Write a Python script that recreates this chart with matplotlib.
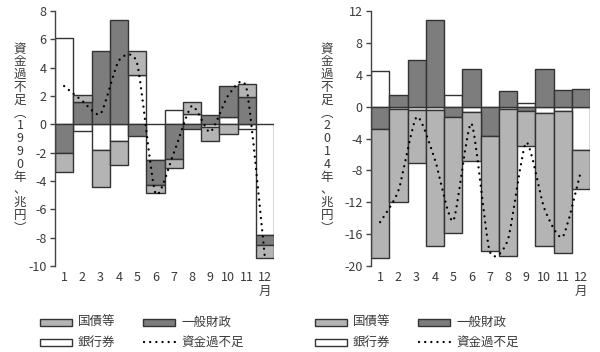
import numpy as np
import matplotlib
matplotlib.use("Agg")
import matplotlib.pyplot as plt
from matplotlib.path import Path
from matplotlib.patches import PathPatch, Rectangle
from matplotlib.lines import Line2D

plt.rcParams['font.family'] = ['Noto Sans CJK JP', 'DejaVu Sans']
plt.rcParams['axes.unicode_minus'] = False

months = list(range(1, 13))
month_labels = [str(m) for m in months]

# 1990 (兆円)
notes_1990 = [6.1, -0.45, -1.8, -1.15, 3.45, -2.5, 1.0, 0.75, -0.2, 0.55, -0.35, -7.8]
fiscal_1990 = [-2.05, 1.6, 5.15, 7.35, -0.85, -1.8, -2.45, -0.3, 0.65, 2.15, 1.95, -0.7]
bonds_1990 = [-1.35, 0.5, -2.6, -1.7, 1.7, -0.55, -0.6, 0.85, -1.0, -0.65, 0.9, -0.9]

# 2014 (兆円)
notes_2014 = [4.5, -0.3, -0.4, -0.4, 1.45, -0.7, 0.0, -0.3, 0.4, -0.8, -0.5, -5.4]
fiscal_2014 = [-2.8, 1.45, 5.8, 10.85, -1.3, 4.7, -3.7, 2.0, -0.6, 4.7, 2.05, 2.2]
bonds_2014 = [-16.2, -11.7, -6.7, -17.1, -14.5, -6.1, -14.4, -18.4, -4.3, -16.7, -17.9, -4.9]

c_bonds = '#b4b4b4'
c_fiscal = '#7d7d7d'
c_notes = '#ffffff'
edge = '#333333'
txt = '#3a3a3a'
dots = (0, (0.01, 2.6))
fs = 9


def smooth_path(xs, ys, k=0.11):
    # smoothed curve through the points, drawn as cubic Bezier segments
    pts = np.column_stack([xs, ys]).astype(float)
    ext = np.vstack([pts[0], pts, pts[-1]])
    verts = [pts[0]]
    codes = [Path.MOVETO]
    for i in range(len(pts) - 1):
        p0, p1, p2, p3 = ext[i], ext[i + 1], ext[i + 2], ext[i + 3]
        verts += [p1 + (p2 - p0) * k, p2 - (p3 - p1) * k, p2]
        codes += [Path.CURVE4] * 3
    return Path(verts, codes)


def draw_panel(ax, notes, fiscal, bonds, ylim, yticks):
    x = np.array(months)
    pos = np.zeros(12)
    neg = np.zeros(12)
    for vals, col in [(notes, c_notes), (fiscal, c_fiscal), (bonds, c_bonds)]:
        v = np.array(vals)
        bottom = np.where(v >= 0, pos, neg)
        ax.bar(x, v, bottom=bottom, width=1.0, color=col, edgecolor=edge, linewidth=1.0, zorder=2)
        pos += np.clip(v, 0, None)
        neg += np.clip(v, None, 0)
    total = np.array(notes) + np.array(fiscal) + np.array(bonds)
    line = PathPatch(smooth_path(x, total), fill=False, edgecolor='black',
                     linewidth=1.7, linestyle=dots, capstyle='round', zorder=3)
    ax.add_patch(line)

    ax.set_xlim(0.5, 12.5)
    ax.set_ylim(*ylim)
    ax.set_yticks(yticks)
    ax.set_xticks(x, month_labels)
    for s in ['top', 'right', 'bottom']:
        ax.spines[s].set_visible(False)
    ax.spines['left'].set_color('#444444')
    ax.spines['left'].set_linewidth(1.0)
    ax.tick_params(axis='y', length=3.5, width=1.0, color='#444444', pad=2.5,
                   labelsize=fs, labelcolor=txt)
    ax.tick_params(axis='x', length=0, pad=3.5, labelsize=fs, labelcolor=txt)
    ax.text(12, -0.1, '月', transform=ax.get_xaxis_transform(), ha='center', va='center',
            fontsize=fs, color=txt)


fig = plt.figure(figsize=(6, 3.52), dpi=100)
ax1 = fig.add_axes([55 / 600, 86 / 352, 219 / 600, 255 / 352])
ax2 = fig.add_axes([371 / 600, 86 / 352, 219 / 600, 255 / 352])

draw_panel(ax1, notes_1990, fiscal_1990, bonds_1990, (-10, 8), range(-10, 9, 2))
draw_panel(ax2, notes_2014, fiscal_2014, bonds_2014, (-20, 12), range(-20, 13, 4))

# vertical axis titles
for xc, year in [(20, '1990'), (327, '2014')]:
    chars = ['資', '金', '過', '不', '足', '︵'] + list(year) + ['年', '、', '兆', '円', '︶']
    for i, ch in enumerate(chars):
        fig.text(xc / 600, 1 - (49 + i * 12.8) / 352, ch, ha='center', va='center',
                 fontsize=fs, color=txt)

# legends
for x0 in [40, 315]:
    rows = [(322, [(c_bonds, '国債等'), (c_fiscal, '一般財政')]),
            (342, [(c_notes, '銀行券'), (None, '資金過不足')])]
    for yc, items in rows:
        for j, (col, name) in enumerate(items):
            xs = x0 + j * 103
            yf = 1 - yc / 352
            if col is not None:
                fig.add_artist(Rectangle((xs / 600, yf - 3.5 / 352), 32 / 600, 7 / 352,
                                         transform=fig.transFigure, facecolor=col,
                                         edgecolor=edge, linewidth=1.0))
            else:
                fig.add_artist(Line2D([(xs + 1) / 600, (xs + 32) / 600], [yf, yf],
                                      transform=fig.transFigure, color='black',
                                      linewidth=1.7, linestyle=dots,
                                      dash_capstyle='round'))
            fig.text((xs + 38) / 600, yf, name, ha='left', va='center',
                     fontsize=fs, color=txt)

fig.savefig('out.png', dpi=100, facecolor='white')
